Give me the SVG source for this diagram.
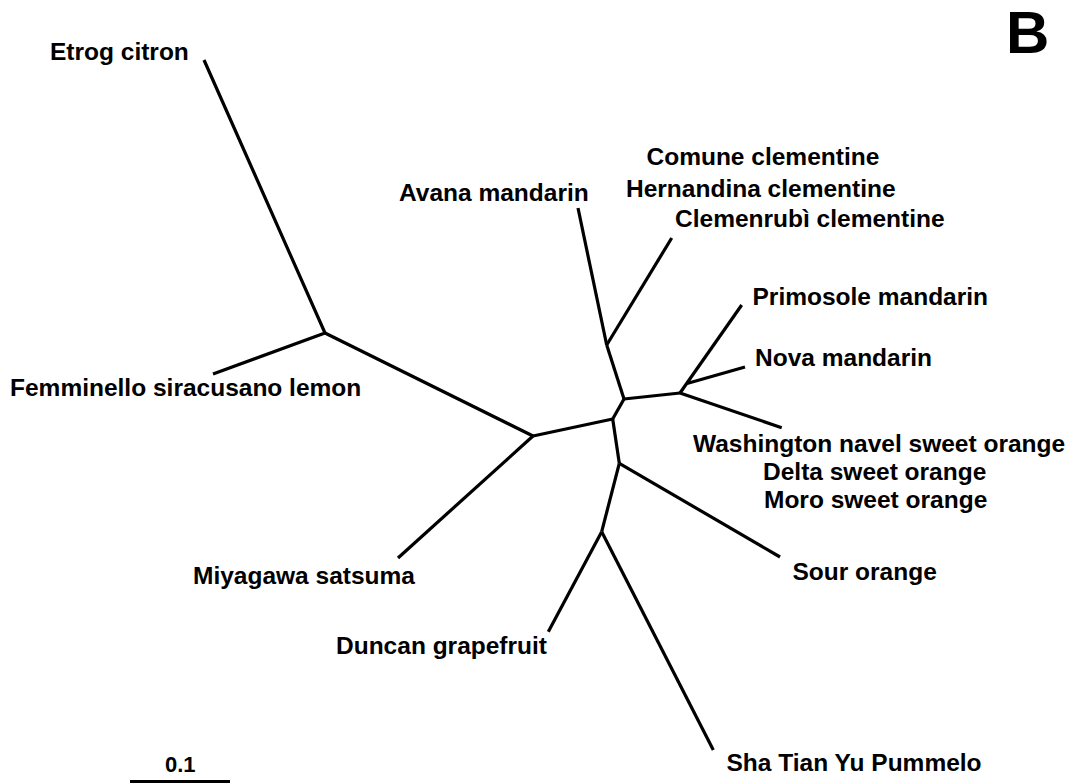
<svg xmlns="http://www.w3.org/2000/svg" width="1073" height="784" viewBox="0 0 1073 784">
<style>
.lbl{font-family:"Liberation Sans",Arial,sans-serif;font-weight:bold;font-size:24.5px;fill:#000}
.br{stroke:#000;stroke-width:3.2;fill:none;stroke-linecap:butt;stroke-linejoin:round}
</style>
<rect width="1073" height="784" fill="#fff"/>
<g id="connectors" class="br">
<polyline points="204,60 325,333 213,374"/>
<line x1="325" y1="333" x2="533" y2="436"/>
<line x1="533" y1="436" x2="398" y2="558"/>
<line x1="533" y1="436" x2="612.7" y2="419"/>
<line x1="612.7" y1="419" x2="624" y2="399"/>
<line x1="624" y1="399" x2="606.7" y2="345"/>
<line x1="606.7" y1="345" x2="578" y2="208"/>
<line x1="606.7" y1="345" x2="671.7" y2="238"/>
<line x1="624" y1="399" x2="680" y2="393"/>
<line x1="680" y1="393" x2="741.7" y2="305"/>
<line x1="687" y1="383.5" x2="745" y2="367"/>
<line x1="680" y1="393" x2="781.7" y2="427.7"/>
<line x1="612.7" y1="419" x2="619.3" y2="463.3"/>
<line x1="619.3" y1="463.3" x2="780" y2="557"/>
<line x1="619.3" y1="463.3" x2="601.7" y2="531.7"/>
<line x1="601.7" y1="531.7" x2="548.3" y2="631.7"/>
<line x1="601.7" y1="531.7" x2="713.3" y2="750"/>
</g>
<g id="etrog"><text class="lbl" x="50" y="60">Etrog citron</text></g>
<g id="femminello"><text class="lbl" x="10" y="396">Femminello siracusano lemon</text></g>
<g id="avana"><text class="lbl" x="399" y="201">Avana mandarin</text></g>
<g id="clementines">
<text class="lbl" x="646.5" y="165">Comune clementine</text>
<text class="lbl" x="626" y="196.5">Hernandina clementine</text>
<text class="lbl" x="675" y="227">Clemenrubì clementine</text>
</g>
<g id="primosole"><text class="lbl" x="752.5" y="305">Primosole mandarin</text></g>
<g id="nova"><text class="lbl" x="755" y="366">Nova mandarin</text></g>
<g id="sweet-oranges">
<text class="lbl" x="693" y="451.5">Washington navel sweet orange</text>
<text class="lbl" x="763" y="480">Delta sweet orange</text>
<text class="lbl" x="764" y="508">Moro sweet orange</text>
</g>
<g id="sour"><text class="lbl" x="792.5" y="579.5">Sour orange</text></g>
<g id="miyagawa"><text class="lbl" x="193" y="583.5">Miyagawa satsuma</text></g>
<g id="duncan"><text class="lbl" x="336" y="653.5">Duncan grapefruit</text></g>
<g id="pummelo"><text class="lbl" x="726.5" y="771">Sha Tian Yu Pummelo</text></g>
<g id="scale">
<text class="lbl" x="165" y="771.5" style="font-size:22px">0.1</text>
<line x1="130" y1="781.5" x2="230" y2="781.5" stroke="#000" stroke-width="3"/>
</g>
<g id="panel-label"><text class="lbl" x="1006" y="53" style="font-size:60px">B</text></g>
</svg>
